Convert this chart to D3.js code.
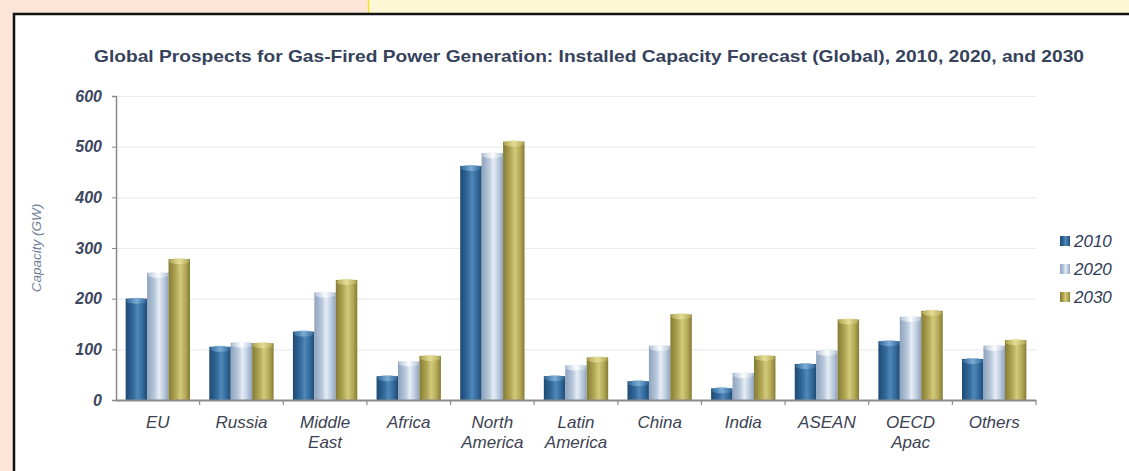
<!DOCTYPE html>
<html>
<head>
<meta charset="utf-8">
<script src="https://cdn.jsdelivr.net/npm/d3@7"></script>
<style>
  html, body { margin: 0; padding: 0; background: #fde6d8; }
  svg { display: block; }
</style>
</head>
<body>
<svg id="chart" width="1129" height="471"></svg>
<script>
// Installed gas-fired capacity (GW) by region
const regions = ["EU", "Russia", "Middle East", "Africa", "North America", "Latin America",
                 "China", "India", "ASEAN", "OECD Apac", "Others"];
const regionLines = [["EU"], ["Russia"], ["Middle", "East"], ["Africa"], ["North", "America"],
                     ["Latin", "America"], ["China"], ["India"], ["ASEAN"], ["OECD", "Apac"], ["Others"]];
const years = ["2010", "2020", "2030"];
const cap2010 = [200, 105, 135, 47, 462, 47, 37, 23, 71, 116, 81];
const cap2020 = [251, 113, 212, 76, 487, 68, 107, 53, 97, 164, 107];
const cap2030 = [278, 112, 237, 87, 510, 84, 169, 87, 159, 176, 118];
const yTicks = [0, 100, 200, 300, 400, 500, 600];

const series = [cap2010, cap2020, cap2030];
const palette = [
  { edge: "#1d4a74", mid: "#33699b", light: "#4f88b9", cap: "#7fb0d8" },
  { edge: "#8ea3bd", mid: "#b8c8dc", light: "#e6edf5", cap: "#ffffff" },
  { edge: "#857b34", mid: "#b2a855", light: "#d3ca7c", cap: "#e8e09a" }
];
const font = "Liberation Sans, Arial, sans-serif";

const svg = d3.select("#chart");
const W = 1129, H = 471;

// page backdrop: peach panel with a pale-yellow strip along the top right
svg.append("rect").attr("x", 0).attr("y", 0).attr("width", W).attr("height", H).attr("fill", "#fde6d8");
svg.append("rect").attr("x", 368).attr("y", 0).attr("width", W - 368).attr("height", 14).attr("fill", "#fef7d6");
svg.append("line").attr("x1", 368.5).attr("x2", 368.5).attr("y1", 0).attr("y2", 14)
  .attr("stroke", "#f5e21c").attr("stroke-width", 1.5);
// chart frame
svg.append("rect").attr("x", 14).attr("y", 14).attr("width", W - 12).attr("height", H)
  .attr("fill", "#ffffff").attr("stroke", "#111").attr("stroke-width", 2.5);

const defs = svg.append("defs");
palette.forEach((p, i) => {
  const g = defs.append("linearGradient").attr("id", "bar" + i)
    .attr("x1", "0%").attr("x2", "100%").attr("y1", "0%").attr("y2", "0%");
  g.append("stop").attr("offset", "0%").attr("stop-color", p.edge);
  g.append("stop").attr("offset", "35%").attr("stop-color", p.mid);
  g.append("stop").attr("offset", "55%").attr("stop-color", p.light);
  g.append("stop").attr("offset", "80%").attr("stop-color", p.mid);
  g.append("stop").attr("offset", "100%").attr("stop-color", p.edge);
  const c = defs.append("linearGradient").attr("id", "cap" + i)
    .attr("x1", "0%").attr("x2", "100%").attr("y1", "0%").attr("y2", "0%");
  c.append("stop").attr("offset", "0%").attr("stop-color", p.mid);
  c.append("stop").attr("offset", "50%").attr("stop-color", p.cap);
  c.append("stop").attr("offset", "100%").attr("stop-color", p.mid);
});

const x0 = 116, x1 = 1036, yBase = 400, yTop = 96;
const x = d3.scaleBand().domain(regions).range([x0, x1]).padding(0);
const y = d3.scaleLinear().domain([0, 600]).range([yBase, yTop]);
const xInner = d3.scaleBand().domain(years).range([0, x.bandwidth()]).paddingOuter(0.45).paddingInner(0);

// title
svg.append("text").attr("x", 589).attr("y", 62).attr("text-anchor", "middle")
  .attr("font-family", font).attr("font-weight", "bold")
  .attr("font-size", 17).attr("fill", "#36425c")
  .attr("textLength", 990).attr("lengthAdjust", "spacingAndGlyphs")
  .text("Global Prospects for Gas-Fired Power Generation: Installed Capacity Forecast (Global), 2010, 2020, and 2030");

// gridlines
svg.append("g").selectAll("line").data(yTicks.filter(d => d > 0)).join("line")
  .attr("x1", x0).attr("x2", x1)
  .attr("y1", d => y(d) + 0.5).attr("y2", d => y(d) + 0.5)
  .attr("stroke", "#ececec").attr("stroke-width", 1.2);

// y axis
const yAxis = svg.append("g").attr("transform", `translate(${x0},0)`)
  .call(d3.axisLeft(y).tickValues(yTicks).tickSize(4).tickPadding(10));
yAxis.select(".domain").attr("stroke", "#8a8a8a").attr("stroke-width", 1.5);
yAxis.selectAll(".tick line").attr("stroke", "#8a8a8a");
yAxis.selectAll("text").attr("font-family", font)
  .attr("font-style", "italic").attr("font-weight", "bold").attr("font-size", 16).attr("fill", "#3c4660");

svg.append("text").attr("transform", "translate(41,248) rotate(-90)").attr("text-anchor", "middle")
  .attr("font-family", font).attr("font-style", "italic")
  .attr("font-size", 13.5).attr("fill", "#6f7f99").text("Capacity (GW)");

// bars
const groups = svg.append("g").selectAll("g").data(regions).join("g")
  .attr("transform", d => `translate(${x(d)},0)`);
years.forEach((yr, si) => {
  const vals = series[si];
  groups.append("rect")
    .attr("x", xInner(yr)).attr("width", xInner.bandwidth())
    .attr("y", (d, i) => y(vals[i])).attr("height", (d, i) => yBase - y(vals[i]))
    .attr("fill", `url(#bar${si})`);
  groups.append("ellipse")
    .attr("cx", xInner(yr) + xInner.bandwidth() / 2).attr("cy", (d, i) => y(vals[i]) + 2)
    .attr("rx", xInner.bandwidth() / 2 - 0.5).attr("ry", 3)
    .attr("fill", `url(#cap${si})`).attr("opacity", 0.9);
});

// x axis
const xAxis = svg.append("g").attr("transform", `translate(0,${yBase})`);
xAxis.append("line").attr("x1", x0).attr("x2", x1).attr("y1", 0.5).attr("y2", 0.5)
  .attr("stroke", "#8a8a8a").attr("stroke-width", 2);
xAxis.selectAll(".sep").data(regions).join("line").attr("class", "sep")
  .attr("x1", d => x(d) + x.bandwidth()).attr("x2", d => x(d) + x.bandwidth())
  .attr("y1", 0).attr("y2", 5).attr("stroke", "#8a8a8a").attr("stroke-width", 1.2);
const xl = xAxis.selectAll(".lbl").data(regions).join("text").attr("class", "lbl")
  .attr("text-anchor", "middle")
  .attr("font-family", font).attr("font-style", "italic")
  .attr("font-size", 17).attr("fill", "#3c4252");
xl.each(function (d, i) {
  const t = d3.select(this);
  regionLines[i].forEach((line, k) => {
    t.append("tspan").attr("x", x(d) + x.bandwidth() / 2).attr("y", 28 + k * 20).text(line);
  });
});

// legend
const legend = svg.append("g").selectAll("g").data(years).join("g")
  .attr("transform", (d, i) => `translate(1060,${241 + i * 28})`);
legend.append("rect").attr("x", 0).attr("y", -5).attr("width", 10).attr("height", 10)
  .attr("fill", (d, i) => `url(#bar${i})`);
legend.append("text").attr("x", 14).attr("y", 6)
  .attr("font-family", font).attr("font-style", "italic")
  .attr("font-size", 17).attr("fill", "#2f3a55").text(d => d);
</script>
</body>
</html>
